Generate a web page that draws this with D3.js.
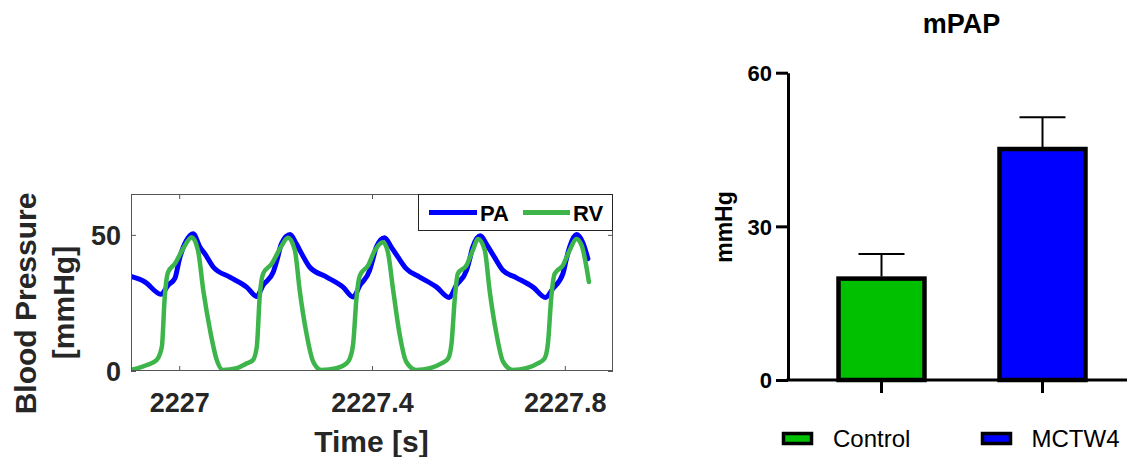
<!DOCTYPE html>
<html>
<head>
<meta charset="utf-8">
<script src="https://cdn.jsdelivr.net/npm/d3@7"></script>
<style>
  html, body { margin: 0; padding: 0; background: #fff; }
  svg { display: block; font-family: "Liberation Sans", Arial, sans-serif; }
</style>
</head>
<body>
<svg id="fig" width="1127" height="457"></svg>
<script>
// ---- Pressure trace (left panel) ----
const paTime = [
  2226.900, 2226.929, 2226.962,
  2226.977, 2226.991, 2227.001, 2227.015, 2227.029, 2227.043, 2227.053, 2227.071, 2227.105, 2227.140, 2227.161,
  2227.174, 2227.195, 2227.203, 2227.212, 2227.230, 2227.243, 2227.254, 2227.271, 2227.306, 2227.340, 2227.361,
  2227.375, 2227.395, 2227.402, 2227.409, 2227.426, 2227.440, 2227.454, 2227.471, 2227.499, 2227.534, 2227.560,
  2227.575, 2227.596, 2227.602, 2227.609, 2227.625, 2227.637, 2227.654, 2227.672, 2227.699, 2227.734, 2227.760,
  2227.775, 2227.796, 2227.803, 2227.810, 2227.824, 2227.837, 2227.848
];
const paPressure = [
  34.7, 32.7, 28.2,
  31.5, 34.0, 41.5, 47.9, 50.4, 45.5, 43.1, 38.1, 34.5, 30.8, 27.4,
  31.5, 36.3, 40.8, 46.7, 50.1, 46.7, 43.1, 38.1, 34.5, 30.8, 27.2,
  31.5, 36.9, 41.2, 45.5, 48.9, 45.5, 41.8, 37.6, 34.5, 30.8, 27.0,
  31.5, 36.9, 40.6, 45.5, 49.7, 46.7, 41.8, 36.9, 34.3, 30.8, 27.0,
  30.2, 35.7, 40.9, 45.5, 50.1, 47.3, 41.2
];
const rvTime = [
  2226.900, 2226.933, 2226.953,
  2226.964, 2226.970, 2226.977, 2226.991, 2227.008, 2227.026, 2227.039, 2227.050, 2227.064, 2227.078, 2227.091, 2227.119, 2227.140, 2227.153,
  2227.161, 2227.167, 2227.174, 2227.192, 2227.209, 2227.226, 2227.240, 2227.250, 2227.264, 2227.278, 2227.295, 2227.326, 2227.347, 2227.354,
  2227.361, 2227.368, 2227.375, 2227.392, 2227.406, 2227.423, 2227.433, 2227.444, 2227.457, 2227.471, 2227.492, 2227.520, 2227.544, 2227.558,
  2227.565, 2227.572, 2227.578, 2227.596, 2227.609, 2227.620, 2227.634, 2227.644, 2227.658, 2227.672, 2227.692, 2227.720, 2227.744, 2227.758,
  2227.765, 2227.772, 2227.779, 2227.796, 2227.810, 2227.824, 2227.835, 2227.845, 2227.850
];
const rvPressure = [
  0.4, 2.2, 4.0,
  8.9, 27.2, 36.3, 39.4, 44.9, 49.1, 44.3, 29.6, 15.0, 4.0, 0.4, 1.0, 2.8, 4.0,
  8.9, 27.2, 35.7, 39.4, 44.9, 48.9, 44.3, 29.6, 13.8, 3.4, 0.4, 1.0, 2.8, 4.6,
  10.1, 27.2, 35.1, 38.8, 44.3, 47.3, 43.6, 29.6, 13.8, 3.4, 0.4, 1.0, 2.8, 4.6,
  10.1, 27.2, 35.7, 38.8, 44.3, 48.5, 44.3, 29.6, 13.8, 3.4, 0.4, 1.0, 2.8, 4.6,
  10.1, 27.2, 35.7, 38.8, 44.3, 48.5, 46.1, 38.1, 32.7
];
const traceNames = ["PA", "RV"];
const traceColors = ["#0000ff", "#3db54a"];
const timeTicks = [2227, 2227.4, 2227.8];
const timeTickLabels = ["2227", "2227.4", "2227.8"];
const pressureTicks = [0, 50];

// ---- mPAP bar chart (right panel) ----
const groups = ["Control", "MCTW4"];
const mpapMean = [19.8, 45.1];
const mpapErr = [4.8, 6.2];
const groupColors = ["#00c000", "#0000ff"];
const mpapTicks = [0, 30, 60];

const svg = d3.select("#fig");
const ink = "#262626";

// ===== Left panel =====
const L = { left: 131, right: 613, top: 194, bottom: 371 };
const x = d3.scaleLinear().domain([2226.9, 2227.9]).range([L.left, L.right]);
const y = d3.scaleLinear().domain([0, 65]).range([L.bottom, L.top]);

svg.append("defs").append("clipPath").attr("id", "plotClip")
  .append("rect").attr("x", L.left).attr("y", L.top)
  .attr("width", L.right - L.left).attr("height", L.bottom - L.top);

const left = svg.append("g");

const fmtTime = (d) => timeTickLabels[timeTicks.indexOf(d)];

// bottom axis (ticks inward, labels below)
const xAxisB = left.append("g").attr("transform", `translate(0,${L.bottom})`)
  .call(d3.axisBottom(x).tickValues(timeTicks).tickFormat(fmtTime)
    .tickSizeInner(-5).tickSizeOuter(0).tickPadding(22));
// top axis (ticks only)
const xAxisT = left.append("g").attr("transform", `translate(0,${L.top})`)
  .call(d3.axisTop(x).tickValues(timeTicks).tickFormat("")
    .tickSizeInner(-5).tickSizeOuter(0));
// left axis
const yAxisL = left.append("g").attr("transform", `translate(${L.left},0)`)
  .call(d3.axisLeft(y).tickValues(pressureTicks).tickFormat(d3.format("d"))
    .tickSizeInner(-5).tickSizeOuter(0).tickPadding(10));
// right axis (ticks only)
const yAxisR = left.append("g").attr("transform", `translate(${L.right},0)`)
  .call(d3.axisRight(y).tickValues(pressureTicks).tickFormat("")
    .tickSizeInner(-5).tickSizeOuter(0));

[xAxisB, xAxisT, yAxisL, yAxisR].forEach(a => {
  a.select(".domain").remove();
  a.selectAll(".tick line").attr("stroke", "#555").attr("stroke-width", 1);
  a.selectAll("text").attr("fill", ink).attr("font-size", 27).attr("font-weight", "bold")
    .attr("font-family", "Liberation Sans, Arial, sans-serif");
});
yAxisL.selectAll("text").attr("dy", "0.36em");

// traces
const paData = paTime.map((t, i) => ({ t, p: paPressure[i] }));
const rvData = rvTime.map((t, i) => ({ t, p: rvPressure[i] }));
const line = d3.line().x(d => x(d.t)).y(d => y(d.p)).curve(d3.curveMonotoneX);

const traces = left.append("g").attr("clip-path", "url(#plotClip)");
traces.append("path").datum(paData).attr("d", line)
  .attr("fill", "none").attr("stroke", traceColors[0]).attr("stroke-width", 5)
  .attr("stroke-linejoin", "round").attr("stroke-linecap", "round");
traces.append("path").datum(rvData).attr("d", line)
  .attr("fill", "none").attr("stroke", traceColors[1]).attr("stroke-width", 4.5)
  .attr("stroke-linejoin", "round").attr("stroke-linecap", "round");

// axes box
left.append("rect").attr("x", L.left + 0.5).attr("y", L.top + 0.5)
  .attr("width", L.right - L.left - 1).attr("height", L.bottom - L.top - 1)
  .attr("fill", "none").attr("stroke", "#555").attr("stroke-width", 1);

// legend
const lg = left.append("g");
lg.append("rect").attr("x", 418.5).attr("y", 194.5).attr("width", 194).attr("height", 36)
  .attr("fill", "#fff").attr("stroke", ink).attr("stroke-width", 1);
const lgItems = [
  { x0: 429, x1: 477, tx: 480 },
  { x0: 523, x1: 570, tx: 573 }
];
traceNames.forEach((name, i) => {
  const it = lgItems[i];
  lg.append("line").attr("x1", it.x0).attr("x2", it.x1).attr("y1", 212.5).attr("y2", 212.5)
    .attr("stroke", traceColors[i]).attr("stroke-width", 5);
  lg.append("text").attr("x", it.tx).attr("y", 220.5).text(name)
    .attr("font-size", 22).attr("font-weight", "bold").attr("fill", "#000");
});

// axis titles
left.append("text").attr("transform", "translate(36,303.5) rotate(-90)")
  .attr("text-anchor", "middle").attr("font-size", 30).attr("font-weight", "bold")
  .attr("fill", ink).text("Blood Pressure");
left.append("text").attr("transform", "translate(74,302.5) rotate(-90)")
  .attr("text-anchor", "middle").attr("font-size", 30).attr("font-weight", "bold")
  .attr("fill", ink).text("[mmHg]");
left.append("text").attr("x", 371.5).attr("y", 452)
  .attr("text-anchor", "middle").attr("font-size", 30).attr("font-weight", "bold")
  .attr("fill", ink).text("Time [s]");

// ===== Right panel =====
const R = { axisX: 788, right: 1127, top: 72.7, base: 380 };
const yb = d3.scaleLinear().domain([0, 60]).range([R.base, R.top]);
const xb = d3.scaleBand().domain(groups).range([801, 1123])
  .paddingInner(0.466).paddingOuter(0.233);

const right = svg.append("g");

// title
right.append("text").attr("x", 961.5).attr("y", 33).attr("text-anchor", "middle")
  .attr("font-size", 27).attr("font-weight", "bold").attr("fill", "#000").text("mPAP");

// y axis
const yAx = right.append("g").attr("transform", `translate(${R.axisX},0)`)
  .call(d3.axisLeft(yb).tickValues(mpapTicks).tickFormat(d3.format("d"))
    .tickSizeInner(12).tickSizeOuter(0).tickPadding(4));
yAx.select(".domain").attr("stroke", "#000").attr("stroke-width", 3);
yAx.selectAll(".tick line").attr("stroke", "#000").attr("stroke-width", 3);
yAx.selectAll("text").attr("font-size", 22).attr("font-weight", "bold").attr("fill", "#000")
  .attr("font-family", "Liberation Sans, Arial, sans-serif").attr("dy", "0.36em");

// y axis title
right.append("text").attr("transform", "translate(732,227) rotate(-90)")
  .attr("text-anchor", "middle").attr("font-size", 23).attr("font-weight", "bold")
  .attr("fill", "#000").text("mmHg");

// bars
groups.forEach((g, i) => {
  right.append("rect")
    .attr("x", xb(g)).attr("y", yb(mpapMean[i]))
    .attr("width", xb.bandwidth()).attr("height", yb(0) - yb(mpapMean[i]))
    .attr("fill", groupColors[i]).attr("stroke", "#000").attr("stroke-width", 4.5);
});

// error bars (upper)
groups.forEach((g, i) => {
  const cx = xb(g) + xb.bandwidth() / 2;
  const top = yb(mpapMean[i] + mpapErr[i]);
  right.append("line").attr("x1", cx).attr("x2", cx)
    .attr("y1", yb(mpapMean[i]) - 2).attr("y2", top)
    .attr("stroke", "#000").attr("stroke-width", 2);
  right.append("line").attr("x1", cx - 23).attr("x2", cx + 23)
    .attr("y1", top).attr("y2", top)
    .attr("stroke", "#000").attr("stroke-width", 2);
});

// x axis
const xAx = right.append("g").attr("transform", `translate(0,${R.base})`)
  .call(d3.axisBottom(xb).tickFormat("").tickSizeInner(13).tickSizeOuter(0));
xAx.select(".domain").remove();
xAx.selectAll(".tick line").attr("stroke", "#000").attr("stroke-width", 3);
right.append("line").attr("x1", R.axisX - 1.5).attr("x2", R.right)
  .attr("y1", R.base).attr("y2", R.base)
  .attr("stroke", "#000").attr("stroke-width", 3);

// legend
const legendX = [{ sx: 783.5, tx: 833 }, { sx: 982.5, tx: 1031.5 }];
groups.forEach((g, i) => {
  right.append("rect").attr("x", legendX[i].sx).attr("y", 433.5)
    .attr("width", 28).attr("height", 10)
    .attr("fill", groupColors[i]).attr("stroke", "#000").attr("stroke-width", 3.5);
  right.append("text").attr("x", legendX[i].tx).attr("y", 446.5)
    .attr("font-size", 24).attr("fill", "#000").text(g);
});
</script>
</body>
</html>
